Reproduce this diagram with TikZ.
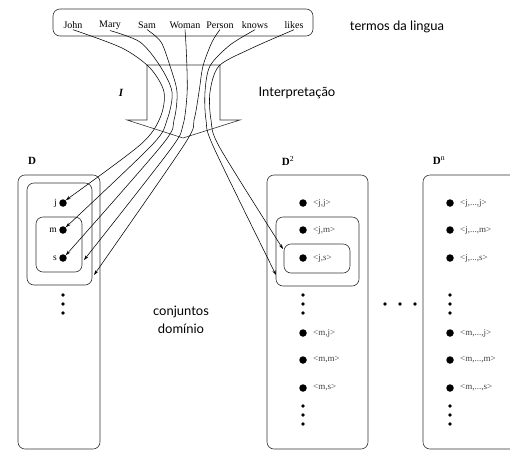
\documentclass[tikz,border=0pt]{standalone}
\usepackage{fontspec}
\setmainfont{Liberation Serif}
\newfontfamily\capfont{Lato}
\usetikzlibrary{arrows.meta}

\tikzset{
  term/.style={draw=none,font=\fontsize{10}{12}\selectfont,inner sep=1pt},
  caption/.style={draw=none,font=\capfont\fontsize{13}{18}\selectfont,align=center},
  elem/.style={circle,fill=black,inner sep=0pt,minimum size=7.5pt},
  tinydot/.style={circle,fill=black,inner sep=0pt,minimum size=3.6pt},
  elemname/.style={draw=none,anchor=east,font=\fontsize{9.5}{10}\selectfont,inner sep=1pt},
  tuple/.style={draw=none,anchor=west,font=\fontsize{9}{10}\selectfont,text=black!75,inner sep=1pt},
  setbox/.style={rounded corners=7pt,line width=0.6pt,black!80},
  map/.style={-{Stealth[length=5pt,width=3.2pt]},line width=0.55pt},
}

\begin{document}
\begin{tikzpicture}[x=1pt,y=-1pt]
\clip (0,0) rectangle (510,450);

%terms of the language
\draw[setbox] (53,9) rectangle (313,36);
\node[term] (john) at (73,25) {John};
\node[term] (mary) at (110,25) {Mary};
\node[term] (sam) at (147,25) {Sam};
\node[term] (woman) at (185,25) {Woman};
\node[term] (person) at (220,25) {Person};
\node[term] (knows) at (255,25) {knows};
\node[term] (likes) at (294,25) {likes};
\node[caption] (termos) at (397,27) {termos da lingua};

%interpretation arrow
\draw[line width=0.6pt,black!80] (127,120) -- (147,120) -- (147,65) -- (220,65)
  -- (220,120) -- (240,120) -- (183,138) -- cycle;
\node[draw=none,font=\bfseries\itshape\fontsize{11}{12}\selectfont] (ilabel) at (121,93) {I};
\node[caption] (interp) at (297,93) {Interpretação};

%domain D
\node[draw=none,font=\bfseries\fontsize{11}{12}\selectfont] (dlabel) at (32,161) {D};
\draw[setbox] (18,175) rectangle (100,449);
\draw[setbox] (27,183) rectangle (92,285);
\draw[setbox] (36,217) rectangle (82,272);
\node[elem] (dj) at (63,203) {};
\node[elem] (dm) at (63,230) {};
\node[elem] (ds) at (63,258) {};
\node[elemname] (nj) at (58,203) {j};
\node[elemname] (nm) at (58,230) {m};
\node[elemname] (ns) at (58,258) {s};
\foreach \y in {295,304,313}
  \node[tinydot] at (63,\y) {};
\node[caption] (conj) at (181,320) {conjuntos\\domínio};

%domain D^2
\node[draw=none,font=\fontsize{11}{12}\selectfont] (dtwo) at (288,161) {\textbf{D}\textsuperscript{2}};
\draw[setbox] (267,175) rectangle (368,449);
\draw[setbox] (276,217) rectangle (359,286);
\draw[setbox] (284,244) rectangle (350,273);
\node[elem] (jj) at (303,203) {};
\node[elem] (jm) at (303,230) {};
\node[elem] (js) at (303,258) {};
\node[elem] (mj) at (303,333) {};
\node[elem] (mm) at (303,360) {};
\node[elem] (ms) at (303,388) {};
\node[tuple] at (312,203) {<j,j>};
\node[tuple] at (312,230) {<j,m>};
\node[tuple] at (312,258) {<j,s>};
\node[tuple] at (312,333) {<m,j>};
\node[tuple] at (312,360) {<m,m>};
\node[tuple] at (312,388) {<m,s>};
\foreach \y in {295,304,313,406,415,424}
  \node[tinydot] at (303,\y) {};

%more domains
\foreach \x in {385,400,415}
  \node[tinydot] at (\x,304) {};

%domain D^n
\node[draw=none,font=\fontsize{11}{12}\selectfont] (dn) at (439,161) {\textbf{D}\textsuperscript{n}};
\draw[setbox] (423,175) rectangle (540,449);
\node[elem] (njj) at (450,203) {};
\node[elem] (njm) at (450,230) {};
\node[elem] (njs) at (450,258) {};
\node[elem] (nmj) at (450,333) {};
\node[elem] (nmm) at (450,360) {};
\node[elem] (nms) at (450,388) {};
\node[tuple] at (459,203) {<j,...,j>};
\node[tuple] at (459,230) {<j,...,m>};
\node[tuple] at (459,258) {<j,...,s>};
\node[tuple] at (459,333) {<m,...,j>};
\node[tuple] at (459,360) {<m,...,m>};
\node[tuple] at (459,388) {<m,...,s>};
\foreach \y in {295,304,313,406,415,424}
  \node[tinydot] at (450,\y) {};

%mapping of the terms
\coordinate (womanset) at (84,260);
\coordinate (personset) at (94,275);
\coordinate (knowsset) at (276,275);
\coordinate (likesset) at (283,249);
\draw[map] plot[smooth] coordinates {(john.south) (122,48) (150,68) (164,92) (160,118) (140,145) (dj.north east)};
\draw[map] plot[smooth] coordinates {(mary.south) (140,42) (160,66) (172,92) (167,120) (152,145) (dm.north east)};
\draw[map] plot[smooth] coordinates {(sam.south) (161,42) (170,66) (177,92) (174,120) (162,145) (ds.north east)};
\draw[map] plot[smooth] coordinates {(woman.south) (186,45) (187,70) (187,95) (183,125) (170,150) (womanset)};
\draw[map] plot[smooth] coordinates {(person.south) (212,42) (203,66) (199,92) (194,120) (184,145) (personset)};
\draw[map] plot[smooth] coordinates {(knows.south) (230,45) (210,66) (205,92) (206,120) (214,148) (knowsset)};
\draw[map] plot[smooth] coordinates {(likes.south) (250,49) (219,66) (210,92) (211,120) (220,148) (likesset)};
\end{tikzpicture}
\end{document}
